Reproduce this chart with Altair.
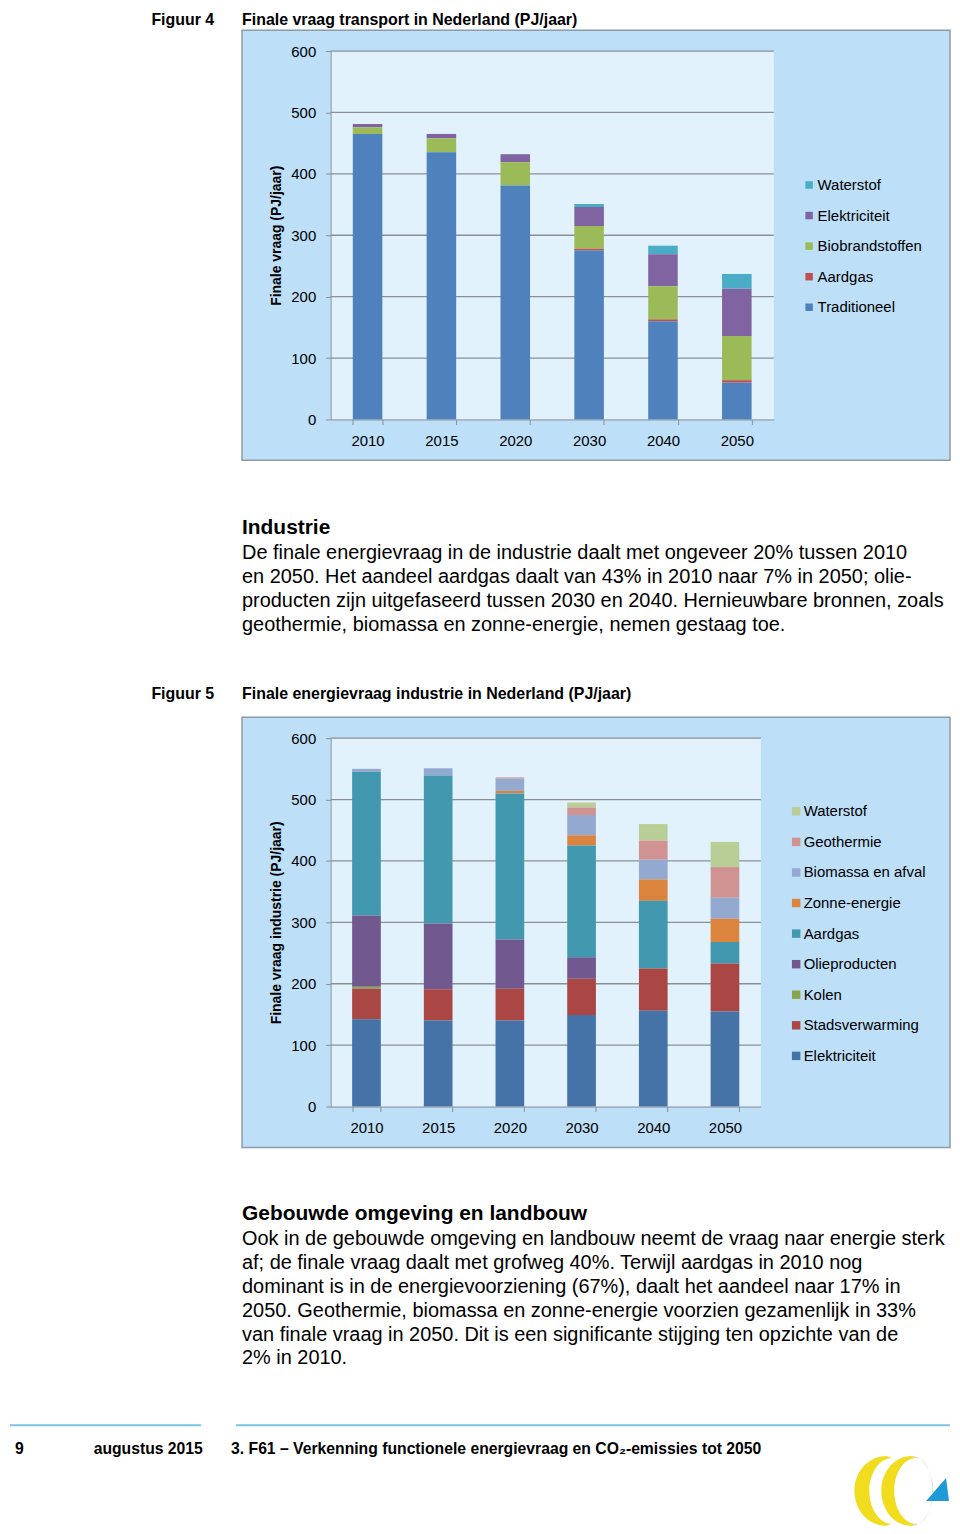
import altair as alt
import pandas as pd

# ---------------- data ----------------
years = ["2010", "2015", "2020", "2030", "2040", "2050"]
y_ticks = [0, 100, 200, 300, 400, 500, 600]

# Figuur 4 - transport (legend order, top to bottom)
t_names = ["Waterstof", "Elektriciteit", "Biobrandstoffen", "Aardgas", "Traditioneel"]
t_colors = ["#4BACC6", "#8064A2", "#9BBB59", "#C0504D", "#4F81BD"]
t_waterstof = [0, 0, 0, 5, 14, 24]
t_elektriciteit = [5, 7, 13, 31, 52, 77]
t_biobrandstoffen = [11, 23, 38, 37, 54, 72]
t_aardgas = [0, 0, 0, 3, 3, 4]
t_traditioneel = [465, 435, 381, 275, 160, 60]

# Figuur 5 - industrie (legend order, top to bottom)
i_names = ["Waterstof", "Geothermie", "Biomassa en afval", "Zonne-energie", "Aardgas",
           "Olieproducten", "Kolen", "Stadsverwarming", "Elektriciteit"]
i_colors = ["#B9CD96", "#D19392", "#93A9CF", "#DB843D", "#4198AF",
            "#71588F", "#89A54E", "#AA4643", "#4572A7"]
i_waterstof = [0, 0, 0, 8, 27, 41]
i_geothermie = [0, 0, 2, 12, 31, 50]
i_biomassa = [5, 12, 20, 33, 32, 34]
i_zonne = [0, 0, 4, 17, 35, 38]
i_aardgas = [234, 241, 238, 182, 110, 35]
i_olie = [116, 107, 80, 35, 0, 0]
i_kolen = [3, 0, 0, 0, 0, 0]
i_stads = [50, 51, 52, 59, 69, 78]
i_elektriciteit = [142, 140, 140, 149, 156, 155]

fig4_label = "Figuur 4"
fig4_title = "Finale vraag transport in Nederland (PJ/jaar)"
fig4_ytitle = "Finale vraag  (PJ/jaar)"
fig5_label = "Figuur 5"
fig5_title = "Finale energievraag industrie in Nederland (PJ/jaar)"
fig5_ytitle = "Finale vraag industrie (PJ/jaar)"

head_industrie = "Industrie"
para_industrie = [
    "De finale energievraag in de industrie daalt met ongeveer 20% tussen 2010",
    "en 2050. Het aandeel aardgas daalt van 43% in 2010 naar 7% in 2050; olie-",
    "producten zijn uitgefaseerd tussen 2030 en 2040. Hernieuwbare bronnen, zoals",
    "geothermie, biomassa en zonne-energie, nemen gestaag toe.",
]
head_gebouwd = "Gebouwde omgeving en landbouw"
para_gebouwd = [
    "Ook in de gebouwde omgeving en landbouw neemt de vraag naar energie sterk",
    "af; de finale vraag daalt met grofweg 40%. Terwijl aardgas in 2010 nog",
    "dominant is in de energievoorziening (67%), daalt het aandeel naar 17% in",
    "2050. Geothermie, biomassa en zonne-energie voorzien gezamenlijk in 33%",
    "van finale vraag in 2050. Dit is een significante stijging ten opzichte van de",
    "2% in 2010.",
]
footer_page = "9"
footer_date = "augustus 2015"
footer_doc = "3. F61 \u2013 Verkenning functionele energievraag en CO\u2082-emissies tot 2050"

# ---------------- style ----------------
FONT = "'Liberation Sans', Arial, sans-serif"
BOX = "#BDDFF8"
PLOT = "#E2F2FD"
BORDER = "#8E9BA6"
GRID = "#8A9096"
AXC = "#8A9096"
H = 370


def long_df(names, series):
    rows = []
    n = len(names)
    for k, (name, vals) in enumerate(zip(names, series)):
        for yr, v in zip(years, vals):
            rows.append({"year": yr, "series": name, "value": v, "ord": n - 1 - k})
    return pd.DataFrame(rows)


one = pd.DataFrame({"k": [0]})


def text(t, x, y, size, bold=False, color="black", baseline="middle", **kw):
    return alt.Chart(one).mark_text(
        text=t, align="left", baseline=baseline, font=FONT, fontSize=size,
        fontWeight="bold" if bold else "normal", color=color, **kw
    ).encode(x=alt.value(x), y=alt.value(y))


def figure(df, names, colors, width, ytitle, legend_x, legend_y, sym_size, label_offset,
           box_top, box_bottom, extras):
    yaxis = alt.Axis(values=y_ticks, title=ytitle, titleFont=FONT, titleFontSize=14,
                     titleFontWeight="bold", titleColor="black", titlePadding=7,
                     labelFont=FONT, labelFontSize=15, labelColor="black", labelPadding=10,
                     tickColor=AXC, tickSize=5, domainColor=AXC, grid=False, zindex=1)
    xaxis = alt.Axis(title=None, labelAngle=0, tickBand="extent", tickColor=AXC, tickSize=5,
                     domainColor=AXC, labelFont=FONT, labelFontSize=15, labelColor="black",
                     labelPadding=9, grid=False, zindex=1)
    yscale = alt.Scale(domain=[0, 600], nice=False)

    box = alt.Chart(one).mark_rect(fill=BOX, stroke=BORDER, strokeWidth=1.5).encode(
        x=alt.value(-89), x2=alt.value(622), y=alt.value(box_top), y2=alt.value(box_bottom))
    plot = alt.Chart(one).mark_rect(fill=PLOT).encode(
        x=alt.value(0), x2=alt.value(width), y=alt.value(0), y2=alt.value(H))
    grid = alt.Chart(pd.DataFrame({"v": y_ticks[1:]})).mark_rule(color=GRID, strokeWidth=1.3).encode(
        y=alt.Y("v:Q", scale=yscale, axis=yaxis), x=alt.value(0), x2=alt.value(width))
    bars = alt.Chart(df).mark_bar(strokeWidth=0).encode(
        x=alt.X("year:N", sort=years, scale=alt.Scale(paddingInner=0.6, paddingOuter=0.3), axis=xaxis),
        y=alt.Y("value:Q", stack="zero", scale=yscale, axis=yaxis),
        color=alt.Color("series:N", scale=alt.Scale(domain=names, range=colors),
                        legend=alt.Legend(title=None, orient="none", legendX=legend_x, legendY=legend_y,
                                          symbolType="square", symbolSize=sym_size, symbolStrokeWidth=0,
                                          labelFont=FONT, labelFontSize=15, labelColor="black",
                                          labelOffset=label_offset, rowPadding=14.7, zindex=1)),
        order=alt.Order("ord:Q", sort="ascending"),
    )
    return alt.layer(box, plot, grid, bars, *extras).properties(width=width, height=H)


df4 = long_df(t_names, [t_waterstof, t_elektriciteit, t_biobrandstoffen, t_aardgas, t_traditioneel])
df5 = long_df(i_names, [i_waterstof, i_geothermie, i_biomassa, i_zonne, i_aardgas,
                        i_olie, i_kolen, i_stads, i_elektriciteit])

# logo shapes (custom symbol paths in unit square)
logo_c1 = "M -0.3 -0.7 A 0.64 0.7 0 0 0 -0.3 0.7 L -0.18 0.66 A 0.46 0.66 0 0 1 -0.18 -0.66 Z"
logo_c2 = "M 0.2 -0.7 A 0.6 0.7 0 0 0 0.2 0.7 L 0.3 0.66 A 0.44 0.66 0 0 1 0.3 -0.66 Z"
logo_g = "M 0.2 -0.7 A 0.44 0.7 0 0 1 0.2 0.7 L 0.3 0.66 A 0.3 0.6 0 0 0 0.3 -0.66 Z"
logo_t = "M 0.5 0.2 L 0.96 0.2 L 0.9 -0.26 Z"


def logo(path, color, x, y):
    return alt.Chart(one).mark_point(shape=path, size=10000, filled=True, fill=color,
                                     strokeWidth=0, opacity=1).encode(x=alt.value(x), y=alt.value(y))


extras4 = [
    text(fig4_label, -180, -31, 16, bold=True),
    text(fig4_title, -89, -31, 16, bold=True),
    text(head_industrie, -89, 479, 21, bold=True),
    text("\n".join(para_industrie), -89, 504, 20, lineBreak="\n", lineHeight=24),
]

extras5 = [
    text(fig5_label, -180, -44, 16, bold=True),
    text(fig5_title, -89, -44, 16, bold=True),
    text(head_gebouwd, -89, 478, 21, bold=True),
    text("\n".join(para_gebouwd), -89, 503, 20, lineBreak="\n", lineHeight=24),
    alt.Chart(one).mark_rule(color="#7CC5E2", strokeWidth=2).encode(
        x=alt.value(-322), x2=alt.value(-130), y=alt.value(690)),
    alt.Chart(one).mark_rule(color="#7CC5E2", strokeWidth=2).encode(
        x=alt.value(-95), x2=alt.value(622), y=alt.value(690)),
    text(footer_page, -317, 714, 15.8, bold=True),
    text(footer_date, -238, 714, 15.8, bold=True),
    text(footer_doc, -100, 714, 15.8, bold=True),
    logo(logo_c1, "#F2DC1E", 573, 756),
    logo(logo_g, "#C9CBCE", 573, 756),
    logo(logo_c2, "#F2DC1E", 573, 756),
    logo(logo_t, "#1E9BD7", 573, 756),
]

fig4 = figure(df4, t_names, t_colors, 445, fig4_ytitle, 473, 127, 56, 1, -21, 411, extras4)
fig5 = figure(df5, i_names, i_colors, 432, fig5_ytitle, 460, 66, 72, 0, -21, 411, extras5)

chart = alt.vconcat(fig4, fig5, spacing=320, bounds="flush").resolve_scale(
    color="independent", x="independent", y="independent"
).properties(padding=0).configure_view(strokeWidth=0).configure(background="white")

chart.save("out.html", embed_options={"renderer": "svg", "actions": False})
